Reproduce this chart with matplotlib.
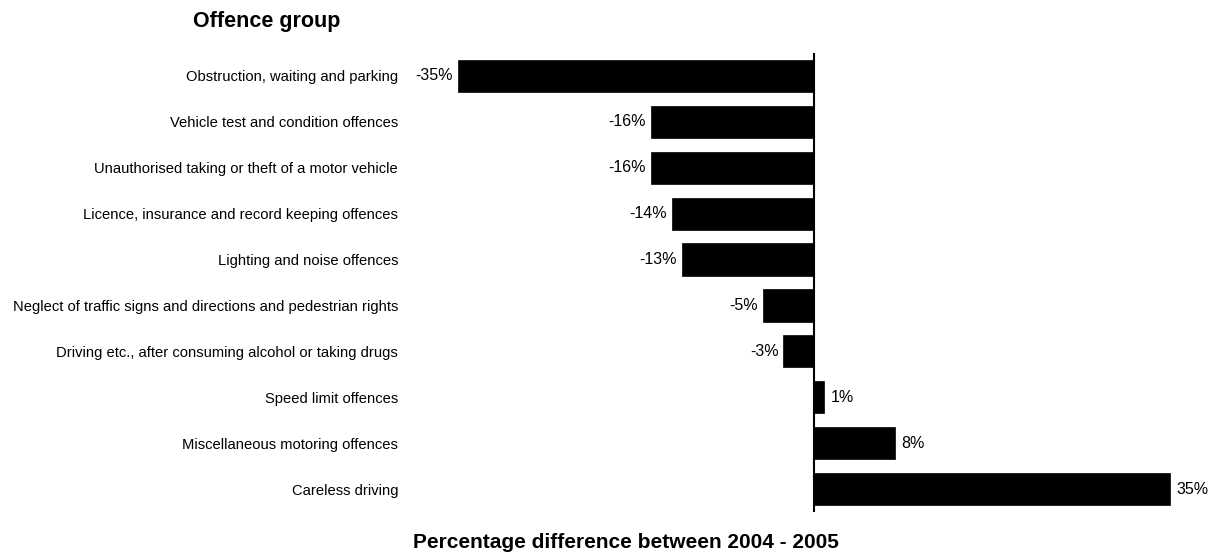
import matplotlib
matplotlib.use('Agg')
import matplotlib.pyplot as plt

plt.rcParams['font.family'] = ['Liberation Sans', 'DejaVu Sans']

# Offence groups, top to bottom
groups = [
    'Obstruction, waiting and parking',
    'Vehicle test and condition offences',
    'Unauthorised taking or theft of a motor vehicle',
    'Licence, insurance and record keeping offences',
    'Lighting and noise offences',
    'Neglect of traffic signs and directions and pedestrian rights',
    'Driving etc., after consuming alcohol or taking drugs',
    'Speed limit offences',
    'Miscellaneous motoring offences',
    'Careless driving',
]
# percentage change 2004 -> 2005
change = [-35, -16, -16, -14, -13, -5, -3, 1, 8, 35]

W, H = 1224, 553
fig = plt.figure(figsize=(W / 100, H / 100), dpi=100)
ax = fig.add_axes([405 / W, 1 - 512 / H, 1 - 405 / W, (512 - 53) / H])

ypos = list(range(len(groups)))
ax.barh(ypos, change, height=0.70, color='black', edgecolor='black', linewidth=0.5)
ax.axvline(0, color='black', linewidth=1.5)

for y, v in zip(ypos, change):
    if v < 0:
        ax.text(v - 0.5, y, f'{v}%', ha='right', va='center', fontsize=11.5)
    else:
        ax.text(v + 0.6, y, f'{v}%', ha='left', va='center', fontsize=11.5)

ax.set_xlim(-40.2, 40.3)
ax.set_ylim(len(groups) - 0.5, -0.5)
ax.set_yticks(ypos)
ax.set_yticklabels(groups, fontsize=10.65)
ax.tick_params(axis='y', length=0, pad=5)
ax.set_xticks([])
for s in ax.spines.values():
    s.set_visible(False)

fig.text(267 / W, 1 - 21 / H, 'Offence group', ha='center', va='center',
         fontsize=15.5, fontweight='bold')
fig.text(626 / W, 1 - 542 / H, 'Percentage difference between 2004 - 2005',
         ha='center', va='center', fontsize=15, fontweight='bold')

fig.savefig('out.png', dpi=100)
